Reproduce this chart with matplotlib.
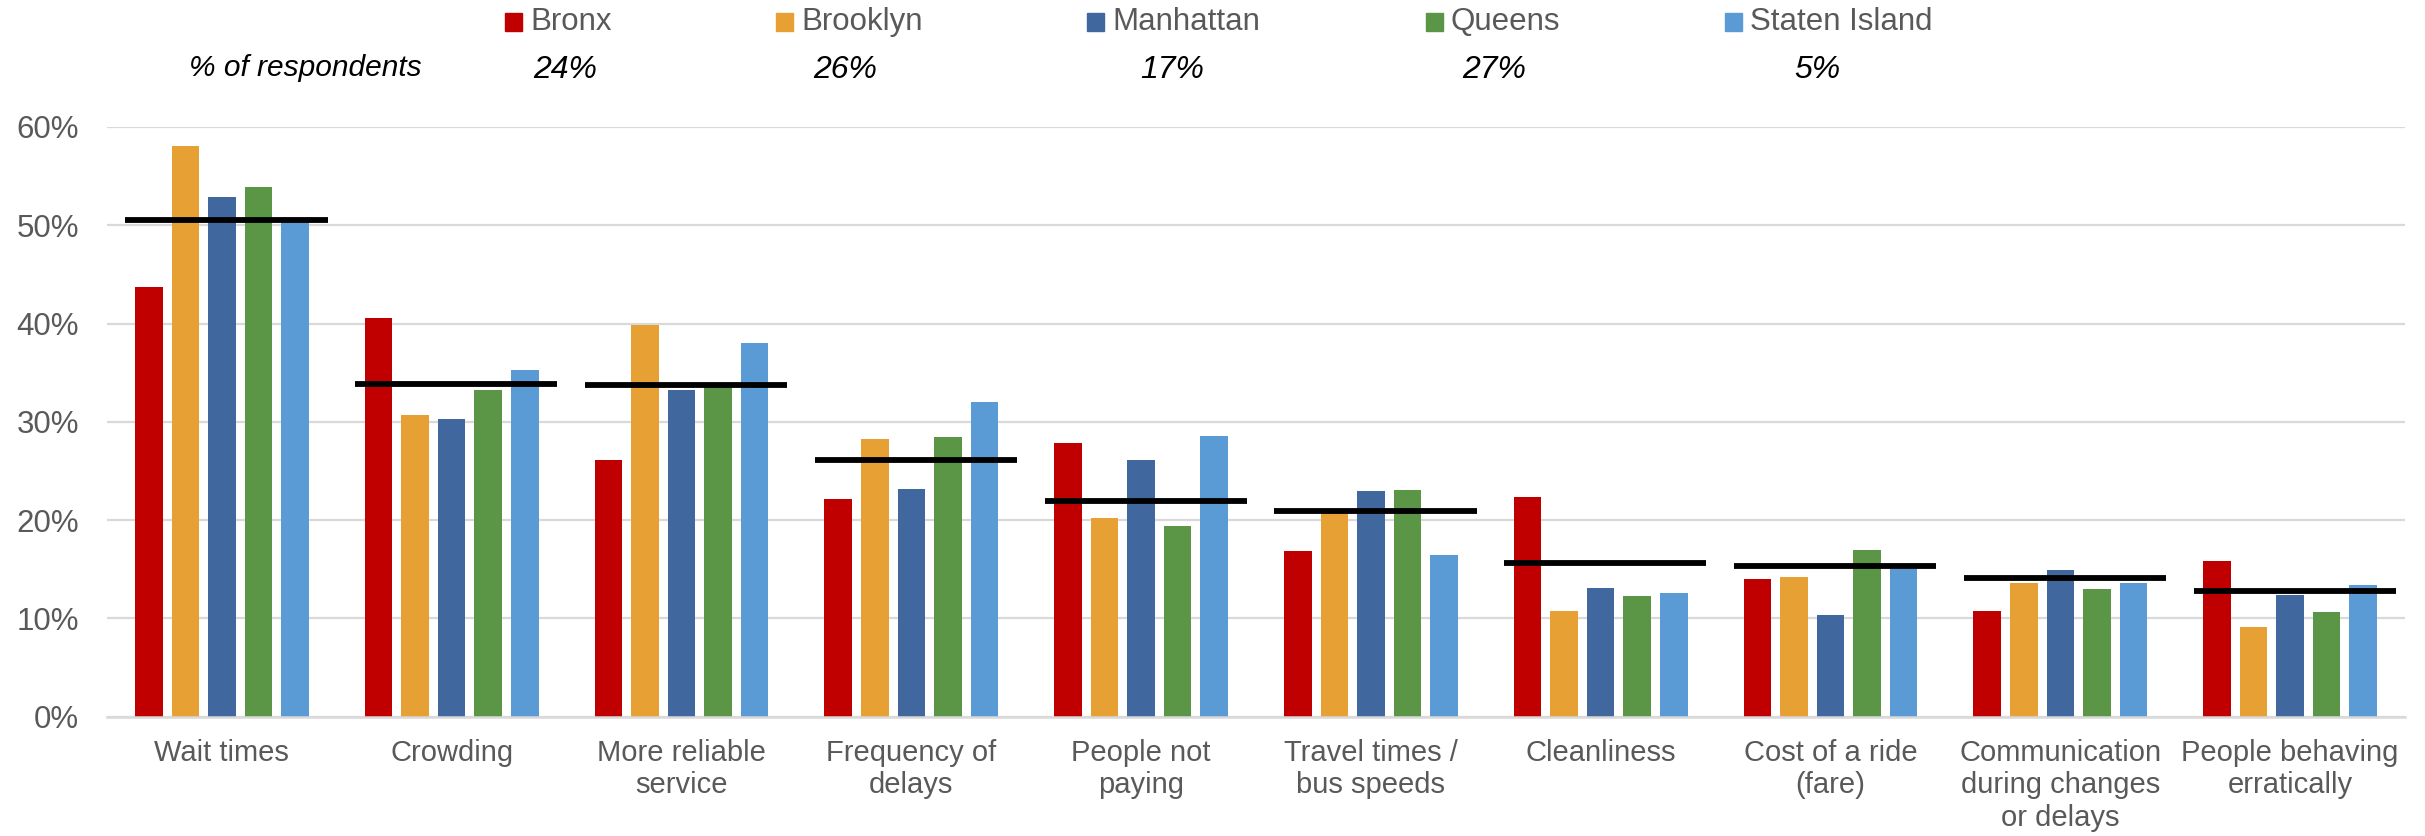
import matplotlib
matplotlib.use("Agg")
import numpy as np
import matplotlib.pyplot as plt
from matplotlib.patches import Rectangle
from matplotlib.ticker import PercentFormatter

plt.rcParams['font.family'] = ['Liberation Sans', 'DejaVu Sans']

# data
categories = ["Wait times", "Crowding", "More reliable\nservice",
              "Frequency of\ndelays", "People not\npaying",
              "Travel times /\nbus speeds", "Cleanliness",
              "Cost of a ride\n(fare)", "Communication\nduring changes\nor delays",
              "People behaving\nerratically"]
boroughs = ["Bronx", "Brooklyn", "Manhattan", "Queens", "Staten Island"]
respondent_share = [24, 26, 17, 27, 5]

bronx = [43.7, 40.6, 26.1, 22.1, 27.8, 16.9, 22.3, 14.0, 10.8, 15.8]
brooklyn = [58.1, 30.7, 39.8, 28.2, 20.2, 20.7, 10.8, 14.2, 13.6, 9.1]
manhattan = [52.9, 30.3, 33.2, 23.2, 26.1, 23.0, 13.1, 10.3, 14.9, 12.4]
queens = [53.9, 33.2, 33.6, 28.5, 19.4, 23.1, 12.3, 17.0, 13.0, 10.7]
staten_island = [50.3, 35.3, 38.0, 32.0, 28.6, 16.5, 12.6, 15.0, 13.6, 13.4]
citywide = [50.5, 33.8, 33.7, 26.1, 21.9, 20.9, 15.6, 15.3, 14.1, 12.8]

series = [bronx, brooklyn, manhattan, queens, staten_island]
colors = ["#C00000", "#E7A033", "#40689F", "#5B9647", "#5B9BD5"]

# layout (figure pixels)
W, H = 2425, 836
legend_x = [505, 776, 1087, 1426, 1725]
share_x = [565, 845, 1172, 1494, 1817]
text_grey = "#595959"

fig = plt.figure(figsize=(W / 100, H / 100), dpi=100)
ax = fig.add_axes([107 / W, 1 - 716.7 / H, (2405 - 107) / W, (716.7 - 126.9) / H])

x = np.arange(len(categories))
pitch = 0.159
width = 0.12
for i, (vals, c) in enumerate(zip(series, colors)):
    ax.bar(x + (i - 2) * pitch, vals, width=width, color=c, zorder=2)

# citywide average marks
ax.hlines(citywide, x - 0.42, x + 0.46, colors="black", linewidth=4.2, zorder=3)

ax.set_xlim(-0.5, len(categories) - 0.5)
ax.set_ylim(0, 60)
ax.set_yticks(np.arange(0, 61, 10))
ax.yaxis.set_major_formatter(PercentFormatter(xmax=100, decimals=0))
ax.grid(axis="y", color="#D9D9D9", linewidth=1.6, zorder=0)
ax.set_axisbelow(True)
for s in ["top", "right", "left"]:
    ax.spines[s].set_visible(False)
ax.spines["bottom"].set_color("#D9D9D9")
ax.spines["bottom"].set_linewidth(1.8)

ax.set_xticks(x)
ax.set_xticklabels(categories, linespacing=1.2)
ax.tick_params(axis="x", length=0, pad=16, labelsize=21, labelcolor=text_grey)
ax.tick_params(axis="y", length=0, pad=20, labelsize=22.5, labelcolor=text_grey)

# legend row, drawn by hand to follow the uneven spacing
sq = 17
for name, c, lx in zip(boroughs, colors, legend_x):
    fig.add_artist(Rectangle((lx / W, 1 - (22 + sq / 2) / H), sq / W, sq / H,
                             transform=fig.transFigure, color=c))
    fig.text((lx + sq + 8) / W, 1 - 22 / H, name, fontsize=22.5,
             color=text_grey, va="center", ha="left")

fig.text(305 / W, 1 - 68 / H, "% of respondents", fontsize=21.5,
         style="italic", va="center", ha="center", color="black")
for v, sx in zip(respondent_share, share_x):
    fig.text(sx / W, 1 - 70 / H, f"{v}%", fontsize=23, style="italic",
             va="center", ha="center", color="black")

fig.savefig("out.png", dpi=100)
